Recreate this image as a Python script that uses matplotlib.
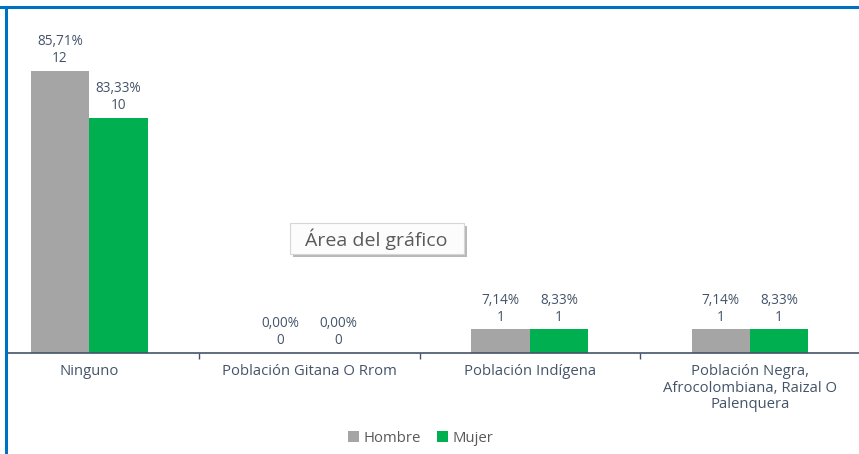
import numpy as np
import matplotlib.pyplot as plt
from matplotlib.lines import Line2D
from matplotlib.patches import Rectangle

categorias = ['Ninguno', 'Población Gitana O Rrom', 'Población Indígena',
              'Población Negra,\nAfrocolombiana, Raizal O\nPalenquera']
hombre = [12, 0, 1, 1]
mujer = [10, 0, 1, 1]
hombre_pct = ['85,71%', '0,00%', '7,14%', '7,14%']
mujer_pct = ['83,33%', '0,00%', '8,33%', '8,33%']

GRIS = '#A5A5A5'
VERDE = '#00B050'
TEXTO = '#44546A'

plt.rcParams['font.family'] = ['Open Sans', 'DejaVu Sans']

fig = plt.figure(figsize=(8.59, 4.54), dpi=100)
ax = fig.add_axes([7 / 859, 101 / 454, 852 / 859, 346 / 454])

x = np.arange(len(categorias))
ancho = 0.265
b1 = ax.bar(x - ancho / 2, hombre, ancho, color=GRIS, label='Hombre')
b2 = ax.bar(x + ancho / 2, mujer, ancho, color=VERDE, label='Mujer')

for barras, pcts in ((b1, hombre_pct), (b2, mujer_pct)):
    for b, p in zip(barras, pcts):
        ax.annotate(f'{p}\n{int(b.get_height())}',
                    (b.get_x() + b.get_width() / 2, b.get_height()),
                    xytext=(0, 3.5), textcoords='offset points',
                    ha='center', va='bottom', fontsize=9.8, color=TEXTO,
                    linespacing=1.15)

ax.set_xlim(-0.373, 3.495)
ax.set_ylim(0, 14.72)
for s in ('left', 'right', 'top'):
    ax.spines[s].set_visible(False)
ax.spines['bottom'].set_color(TEXTO)
ax.spines['bottom'].set_linewidth(1.2)
ax.set_yticks([])
ax.set_xticks(x)
ax.set_xticklabels(categorias, fontsize=10.7, color=TEXTO, linespacing=1.15)
ax.tick_params(axis='x', which='major', length=0, pad=8)
ax.set_xticks([0.5, 1.5, 2.5], minor=True)
ax.tick_params(axis='x', which='minor', length=4, color=TEXTO, width=1)

fig.legend(loc='lower center', bbox_to_anchor=(0.49, -0.012), ncol=2,
           frameon=False, handlelength=0.75, handleheight=0.75,
           handletextpad=0.3, columnspacing=1.1, fontsize=10.7,
           labelcolor='#595959')

# marco azul del área del gráfico
fig.add_artist(Line2D([0, 1], [1 - 7 / 454, 1 - 7 / 454], color='#0070C0', lw=2.2))
fig.add_artist(Line2D([6 / 859, 6 / 859], [0, 1 - 7 / 454], color='#0070C0', lw=2.2))

# información emergente
fig.add_artist(Rectangle((293 / 859, 1 - 257 / 454), 174 / 859, 31 / 454,
                         color='#9A9A9A', alpha=0.7, lw=0))
fig.add_artist(Rectangle((290 / 859, 1 - 254 / 454), 174 / 859, 31 / 454,
                         fc='#FCFCFC', ec='#D6D6D6', lw=0.8))
fig.text(376 / 859, 1 - 239 / 454, 'Área del gráfico', ha='center', va='center',
         fontsize=14, color='#5A5A5A')

fig.savefig('out.png', dpi=100)
